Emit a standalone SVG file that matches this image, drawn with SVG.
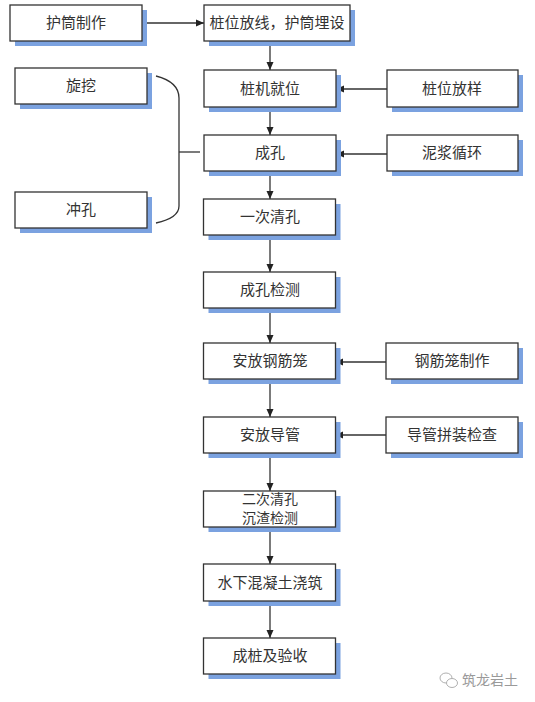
<svg xmlns="http://www.w3.org/2000/svg" width="535" height="702" viewBox="0 0 535 702">
<style>
.sh{fill:#7ba2e0;}
.bx{fill:#ffffff;stroke:#333333;stroke-width:1.3;}
.t{font-family:"Noto Sans CJK SC","Noto Sans",sans-serif;font-size:15px;fill:#333333;text-anchor:middle;}
.t2{font-family:"Noto Sans CJK SC","Noto Sans",sans-serif;font-size:14px;fill:#333333;text-anchor:middle;}
.ln{stroke:#333333;stroke-width:1.3;fill:none;}
.ar{stroke:#333333;stroke-width:1.3;fill:none;marker-end:url(#ah);}
.wm{font-family:"Noto Sans CJK SC","Noto Sans",sans-serif;font-size:14px;fill:#9a9a9a;}
</style>
<defs>
<marker id="ah" viewBox="0 0 8 8" refX="8" refY="4" markerWidth="8" markerHeight="8" markerUnits="userSpaceOnUse" orient="auto">
<path d="M0,0.5 L8,4 L0,7.5 Z" fill="#222222"/>
</marker>
</defs>
<rect width="535" height="702" fill="#ffffff"/>

<g id="connectors">
<line class="ar" x1="142" y1="23" x2="204" y2="23"/>
<line class="ar" x1="270" y1="41" x2="270" y2="70"/>
<line class="ar" x1="387" y1="89" x2="336" y2="89"/>
<line class="ar" x1="270" y1="107" x2="270" y2="135"/>
<line class="ar" x1="387" y1="154" x2="336" y2="154"/>
<line class="ar" x1="270" y1="171" x2="270" y2="199"/>
<line class="ar" x1="270" y1="235" x2="270" y2="272"/>
<line class="ar" x1="270" y1="308" x2="270" y2="343"/>
<line class="ar" x1="386" y1="362" x2="335" y2="362"/>
<line class="ar" x1="270" y1="379" x2="270" y2="417"/>
<line class="ar" x1="386" y1="435" x2="335" y2="435"/>
<line class="ar" x1="270" y1="453" x2="270" y2="491"/>
<line class="ar" x1="270" y1="527" x2="270" y2="564"/>
<line class="ar" x1="270" y1="601" x2="270" y2="638"/>
<path class="ln" d="M156,76 Q179,82 179,98 L179,206 Q179,218 156,223"/>
<line class="ln" x1="179" y1="152" x2="200" y2="152"/>
</g>

<g id="n-hutong-zhizuo">
<rect class="sh" x="15" y="10" width="132" height="36"/>
<rect class="bx" x="10" y="5" width="132" height="36"/>
<text class="t" x="76" y="28">护筒制作</text>
</g>
<g id="n-zhuangwei-fangxian">
<rect class="sh" x="209" y="10" width="146" height="36"/>
<rect class="bx" x="204" y="5" width="146" height="36"/>
<text class="t" x="277" y="28">桩位放线，护筒埋设</text>
</g>
<g id="n-xuanwa">
<rect class="sh" x="20" y="73" width="132" height="36"/>
<rect class="bx" x="15" y="68" width="132" height="36"/>
<text class="t" x="81" y="91">旋挖</text>
</g>
<g id="n-chongkong">
<rect class="sh" x="20" y="197" width="132" height="36"/>
<rect class="bx" x="15" y="192" width="132" height="36"/>
<text class="t" x="81" y="215">冲孔</text>
</g>
<g id="n-zhuangji-jiuwei">
<rect class="sh" x="209" y="75" width="132" height="37"/>
<rect class="bx" x="204" y="70" width="132" height="37"/>
<text class="t" x="270" y="94">桩机就位</text>
</g>
<g id="n-zhuangwei-fangyang">
<rect class="sh" x="392" y="75" width="131" height="37"/>
<rect class="bx" x="387" y="70" width="131" height="37"/>
<text class="t" x="452" y="94">桩位放样</text>
</g>
<g id="n-chengkong">
<rect class="sh" x="209" y="140" width="132" height="36"/>
<rect class="bx" x="204" y="135" width="132" height="36"/>
<text class="t" x="270" y="158">成孔</text>
</g>
<g id="n-nijiang-xunhuan">
<rect class="sh" x="392" y="140" width="131" height="36"/>
<rect class="bx" x="387" y="135" width="131" height="36"/>
<text class="t" x="452" y="158">泥浆循环</text>
</g>
<g id="n-yici-qingkong">
<rect class="sh" x="208.5" y="204" width="132" height="36"/>
<rect class="bx" x="203.5" y="199" width="132" height="36"/>
<text class="t" x="270" y="222">一次清孔</text>
</g>
<g id="n-chengkong-jiance">
<rect class="sh" x="208.5" y="277" width="132" height="36"/>
<rect class="bx" x="203.5" y="272" width="132" height="36"/>
<text class="t" x="270" y="295">成孔检测</text>
</g>
<g id="n-anfang-gangjinlong">
<rect class="sh" x="208.5" y="348" width="132" height="36"/>
<rect class="bx" x="203.5" y="343" width="132" height="36"/>
<text class="t" x="270" y="366">安放钢筋笼</text>
</g>
<g id="n-gangjinlong-zhizuo">
<rect class="sh" x="391" y="348" width="132" height="36"/>
<rect class="bx" x="386" y="343" width="132" height="36"/>
<text class="t" x="452" y="366">钢筋笼制作</text>
</g>
<g id="n-anfang-daoguan">
<rect class="sh" x="208.5" y="422" width="132" height="36"/>
<rect class="bx" x="203.5" y="417" width="132" height="36"/>
<text class="t" x="270" y="440">安放导管</text>
</g>
<g id="n-daoguan-pinzhuang">
<rect class="sh" x="391" y="422" width="132" height="36"/>
<rect class="bx" x="386" y="417" width="132" height="36"/>
<text class="t" x="452" y="440">导管拼装检查</text>
</g>
<g id="n-erci-qingkong">
<rect class="sh" x="208.5" y="496" width="132" height="36"/>
<rect class="bx" x="203.5" y="491" width="132" height="36"/>
<text class="t2" x="270" y="504">二次清孔</text>
<text class="t2" x="270" y="523">沉渣检测</text>
</g>
<g id="n-shuixia-jiaozhu">
<rect class="sh" x="208.5" y="569" width="132" height="37"/>
<rect class="bx" x="203.5" y="564" width="132" height="37"/>
<text class="t" x="270" y="588">水下混凝土浇筑</text>
</g>
<g id="n-chengzhuang-yanshou">
<rect class="sh" x="208.5" y="643" width="132" height="36"/>
<rect class="bx" x="203.5" y="638" width="132" height="36"/>
<text class="t" x="270" y="661">成桩及验收</text>
</g>

<g id="watermark">
<ellipse cx="446" cy="678" rx="6" ry="5" fill="none" stroke="#b0b0b0" stroke-width="1"/>
<ellipse cx="452" cy="683" rx="5.5" ry="4.5" fill="#ffffff" stroke="#b0b0b0" stroke-width="1"/>
<text class="wm" x="462" y="685">筑龙岩土</text>
</g>
</svg>
